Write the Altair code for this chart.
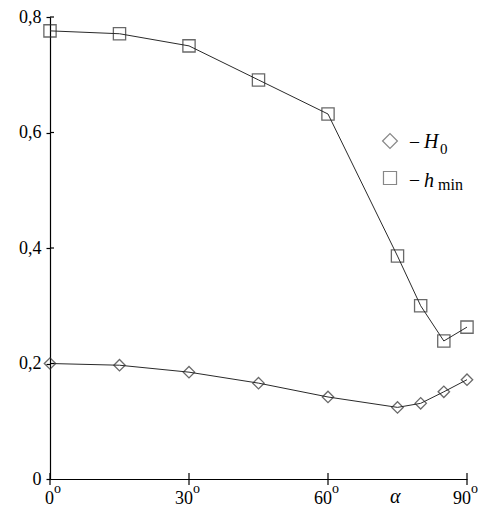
import altair as alt
import pandas as pd

# Data
alpha_deg = [0, 15, 30, 45, 60, 75, 80, 85, 90]
H0 = [0.200, 0.197, 0.185, 0.166, 0.142, 0.124, 0.131, 0.151, 0.172]
h_min = [0.776, 0.771, 0.750, 0.691, 0.632, 0.386, 0.300, 0.239, 0.263]
y_ticks = [0, 0.2, 0.4, 0.6, 0.8]
x_ticks = [0, 30, 60, 90]
alpha_label_pos = [74.5]

rows = []
for a, v in zip(alpha_deg, H0):
    rows.append({"alpha": a, "value": v, "series": "H0"})
for a, v in zip(alpha_deg, h_min):
    rows.append({"alpha": a, "value": v, "series": "hmin"})
df = pd.DataFrame(rows)

W, H = 417, 462
FONT = "Liberation Serif"
INK = "#2a2a2a"

xs = alt.Scale(domain=[0, 90], nice=False, zero=False)
ys = alt.Scale(domain=[0, 0.8], nice=False)

base = alt.Chart(df)

lines = base.mark_line(color=INK, strokeWidth=1).encode(
    x=alt.X("alpha:Q", scale=xs,
            axis=alt.Axis(values=x_ticks, labels=False, ticks=False, title=None,
                          domainColor="black", domainWidth=1.2, grid=False)),
    y=alt.Y("value:Q", scale=ys,
            axis=alt.Axis(values=y_ticks, title=None, grid=False,
                          labelExpr="datum.value == 0 ? '0' : replace(format(datum.value, '.1f'), '.', ',')",
                          labelFont=FONT, labelFontSize=18, labelColor="black",
                          tickSize=4, tickColor="black", tickWidth=1.2,
                          labelPadding=5, domainColor="black", domainWidth=1.2)),
    detail="series:N",
)

points = base.mark_point(filled=False, strokeWidth=1.3, color=INK).encode(
    x=alt.X("alpha:Q", scale=xs),
    y=alt.Y("value:Q", scale=ys),
    shape=alt.Shape("series:N", scale=alt.Scale(domain=["H0", "hmin"], range=["diamond", "square"]), legend=None),
    size=alt.Size("series:N", scale=alt.Scale(domain=["H0", "hmin"], range=[130, 150]), legend=None),
)

# x ticks crossing the axis
xt_df = pd.DataFrame({"t": x_ticks})
xticks = alt.Chart(xt_df).mark_rule(color="black", strokeWidth=1.2).encode(
    x=alt.X("t:Q", scale=xs), y=alt.value(H - 6), y2=alt.value(H + 6)
)
# y ticks inner part
yt_df = pd.DataFrame({"t": y_ticks[1:]})
yticks = alt.Chart(yt_df).mark_rule(color="black", strokeWidth=1.2).encode(
    y=alt.Y("t:Q", scale=ys), x=alt.value(0), x2=alt.value(4)
)

xlab_df = pd.DataFrame({"t": x_ticks, "lab": [str(v) for v in x_ticks], "y0": [0] * len(x_ticks)})
xnums = alt.Chart(xlab_df).mark_text(font=FONT, fontSize=18, align="right", baseline="alphabetic",
                                     dx=4, dy=25, color="black").encode(
    x=alt.X("t:Q", scale=xs), y=alt.Y("y0:Q", scale=ys), text="lab:N")
xsup = alt.Chart(xlab_df).mark_text(font=FONT, fontSize=14, align="left", baseline="alphabetic",
                                    dx=4, dy=14, color="black").encode(
    x=alt.X("t:Q", scale=xs), y=alt.Y("y0:Q", scale=ys), text=alt.value("o"))

alpha_df = pd.DataFrame({"t": alpha_label_pos, "y0": [0]})
alpha_txt = alt.Chart(alpha_df).mark_text(font=FONT, fontSize=20, fontStyle="italic", align="center",
                                          baseline="alphabetic", dy=24, color="black").encode(
    x=alt.X("t:Q", scale=xs), y=alt.Y("y0:Q", scale=ys), text=alt.value("α"))

# legend (annotation)
leg_sym = pd.DataFrame({"shape": ["diamond", "square"], "px": [340, 340], "py": [124, 161], "sz": [220, 170]})
leg_marks = alt.Chart(leg_sym).mark_point(filled=False, strokeWidth=1.2, color="#555").encode(
    x=alt.X("px:Q", scale=None), y=alt.Y("py:Q", scale=None),
    shape=alt.Shape("shape:N", scale=None), size=alt.Size("sz:Q", scale=None))

leg_txt = pd.DataFrame({
    "txt": ["–", "H", "0", "–", "h", "min"],
    "px": [360, 374, 390, 360, 374, 388],
    "py": [130, 131, 137, 168, 170, 173],
    "fs": [18, 20, 15, 18, 20, 16],
    "st": ["normal", "italic", "normal", "normal", "italic", "normal"],
})
leg_texts = []
for i, r in leg_txt.iterrows():
    leg_texts.append(
        alt.Chart(leg_txt.iloc[[i]]).mark_text(font=FONT, fontSize=int(r.fs), fontStyle=r.st, align="left",
                                               baseline="alphabetic", color="black").encode(
            x=alt.X("px:Q", scale=None), y=alt.Y("py:Q", scale=None), text="txt:N")
    )

chart = alt.layer(lines, points, xticks, yticks, xnums, xsup, alpha_txt, leg_marks, *leg_texts).properties(
    width=W, height=H,
    padding={"left": 10, "top": 0, "right": 5, "bottom": 5},
    background="white",
    view=alt.ViewBackground(strokeOpacity=0),
)

chart.save("out.html", embed_options={"renderer": "svg", "actions": False})
